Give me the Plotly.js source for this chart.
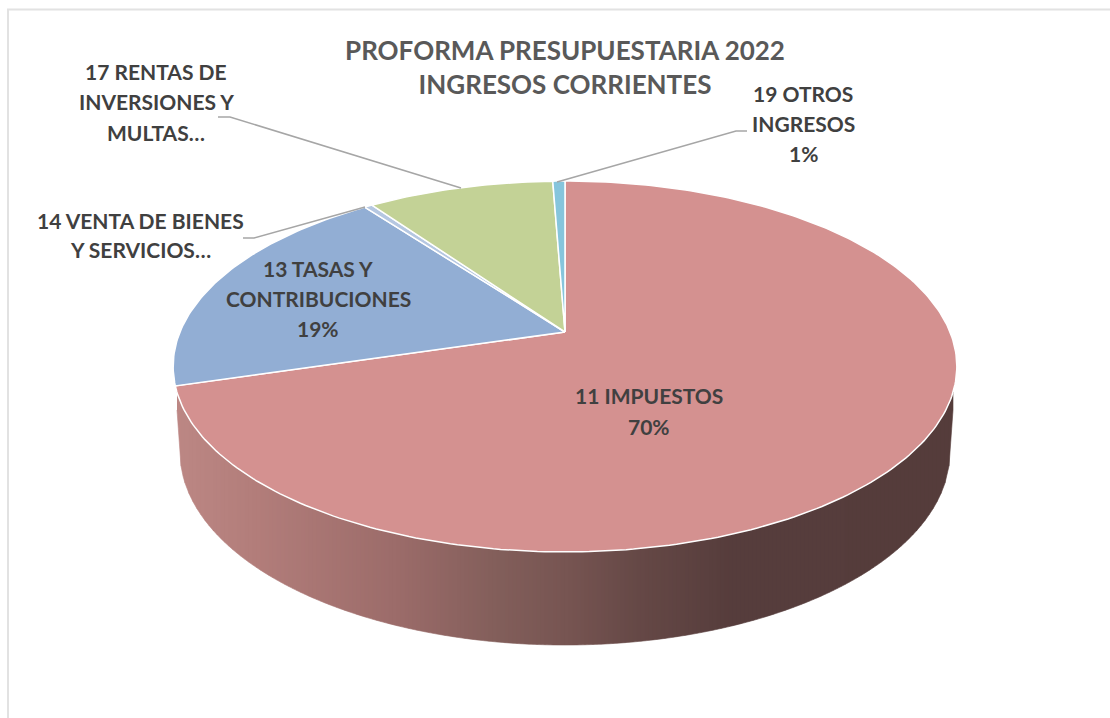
<!DOCTYPE html>
<html>
<head>
<meta charset="utf-8">
<script src="https://cdn.plot.ly/plotly-3.0.1.min.js"></script>
<style>html,body{margin:0;padding:0;background:#fff}#chart{width:1110px;height:718px}</style>
</head>
<body>
<div id="chart"></div>
<script>
// --- data ---
const categories = ['11 IMPUESTOS','13 TASAS Y CONTRIBUCIONES','14 VENTA DE BIENES Y SERVICIOS','17 RENTAS DE INVERSIONES Y MULTAS','19 OTROS INGRESOS'];
const values = [70.4, 19.4, 0.4, 9.2, 0.6];
const sliceColors = ['#d49190','#92aed4','#b5c7e1','#c3d296','#86c5dc'];
const titleText = 'PROFORMA PRESUPUESTARIA 2022<br>INGRESOS CORRIENTES';
const labelLines = ['17 RENTAS DE','INVERSIONES Y','MULTAS…','14 VENTA DE BIENES','Y SERVICIOS…','13 TASAS Y','CONTRIBUCIONES','19%','19 OTROS','INGRESOS','1%','11 IMPUESTOS','70%'];
const labelX = [156,156,156,140,140,318,318,318,803,803,803,649,649];
const labelY = [71,101,132,220,249,268,298,328,93,123,153,395.5,426.5];
const leaderX = [[218,230,461],[243,254,365],[747,736,557]];
const leaderY = [[117,117,188],[238,238,207],[131,131,182]];
const wallStopX = [175,250,400,500,565,640,730,960];
const wallStopColor = [[188,135,132],[179,126,123],[155,107,105],[130,94,90],[119,85,82],[101,72,70],[86,61,60],[85,60,59]];

// --- perspective disc geometry ---
const apexX = 565, apexY = 332, k = 0.186, a = 179, b = 385;
function disc(frac){
  const t = frac*2*Math.PI, u = Math.sin(t), v = Math.cos(t), w = 1 + k*v;
  return [apexX + b*u/w, apexY - a*v/w];
}
const topCx = 565, topCy = 366.5, topRx = 392, topRy = 185.5;
const botCx = 565, botCy = 452, botRx = 385, botRy = 193;
function topEdge(x){
  const d = Math.min(1, Math.abs(x-topCx)/topRx);
  return topCy + topRy*Math.sqrt(1-d*d);
}
function botEdge(x){
  const dx = Math.abs(x-botCx);
  if (dx >= botRx) return botCy - (dx-botRx)*14;
  return botCy + botRy*Math.sqrt(1-(dx/botRx)*(dx/botRx));
}
function wallColor(x){
  for (let i=0;i<wallStopX.length-1;i++){
    if (x<=wallStopX[i+1]){
      const f=(x-wallStopX[i])/(wallStopX[i+1]-wallStopX[i]);
      const c=wallStopColor[i].map((q,j)=>Math.round(q+(wallStopColor[i+1][j]-q)*f));
      return 'rgb('+c.join(',')+')';
    }
  }
  return 'rgb('+wallStopColor[wallStopColor.length-1].join(',')+')';
}

const traces = [];
// side wall, as vertical colour strips
const wallL = 177, wallR = 953, stepW = 4;
for (let x0=wallL; x0<wallR; x0+=stepW){
  const x1=Math.min(x0+stepW,wallR), xs=[], ys=[];
  for (let i=0;i<=2;i++){const x=x0+(x1-x0)*i/2; xs.push(x); ys.push(topEdge(x)-1);}
  for (let i=2;i>=0;i--){const x=x0+(x1-x0)*i/2; xs.push(x); ys.push(botEdge(x));}
  const col=wallColor((x0+x1)/2);
  traces.push({type:'scatter',mode:'lines',x:xs,y:ys,fill:'toself',fillcolor:col,
    line:{color:col,width:0.6},hoverinfo:'skip',showlegend:false});
}
// top face slices, from the values
const total = values.reduce((s,v)=>s+v,0);
let cum = 0;
values.forEach((val,i)=>{
  const xs=[apexX], ys=[apexY], n=Math.max(4,Math.ceil(val*4));
  for (let j=0;j<=n;j++){
    const p=disc((cum+val*j/n)/total); xs.push(p[0]); ys.push(p[1]);
  }
  xs.push(apexX); ys.push(apexY);
  traces.push({type:'scatter',mode:'lines',x:xs,y:ys,fill:'toself',fillcolor:sliceColors[i],
    line:{color:'#ffffff',width:1.5},name:categories[i],
    text:categories[i]+': '+val+'%',hoverinfo:'text',hoveron:'fills',showlegend:false});
  cum+=val;
});
// leader lines
leaderX.forEach((lx,i)=>{
  traces.push({type:'scatter',mode:'lines',x:lx,y:leaderY[i],line:{color:'#a6a6a6',width:1.5},
    hoverinfo:'skip',showlegend:false});
});

const annotations = labelLines.map((t,i)=>({
  text:t,x:labelX[i],y:labelY[i],xref:'x',yref:'y',xanchor:'center',yanchor:'middle',showarrow:false,
  font:{family:'Lato, sans-serif',size:21,color:'#404040',weight:700}
}));

const layout = {
  width:1110,height:718,margin:{l:0,r:0,t:0,b:0},
  paper_bgcolor:'#ffffff',plot_bgcolor:'#ffffff',showlegend:false,
  title:{text:titleText,x:565/1110,xanchor:'center',y:1-60/718,yanchor:'top',
    font:{family:'Lato, sans-serif',size:26,color:'#595959',weight:700}},
  xaxis:{range:[0,1110],visible:false,fixedrange:true},
  yaxis:{range:[718,0],visible:false,fixedrange:true},
  shapes:[
    {type:'line',xref:'x',yref:'y',x0:8,y0:718,x1:8,y1:9.5,line:{color:'#e2e2e2',width:2},layer:'below'},
    {type:'line',xref:'x',yref:'y',x0:7,y0:9.5,x1:1110,y1:9.5,line:{color:'#e2e2e2',width:2},layer:'below'}
  ],
  annotations:annotations
};
Plotly.newPlot('chart',traces,layout,{displayModeBar:false});
</script>
</body>
</html>
